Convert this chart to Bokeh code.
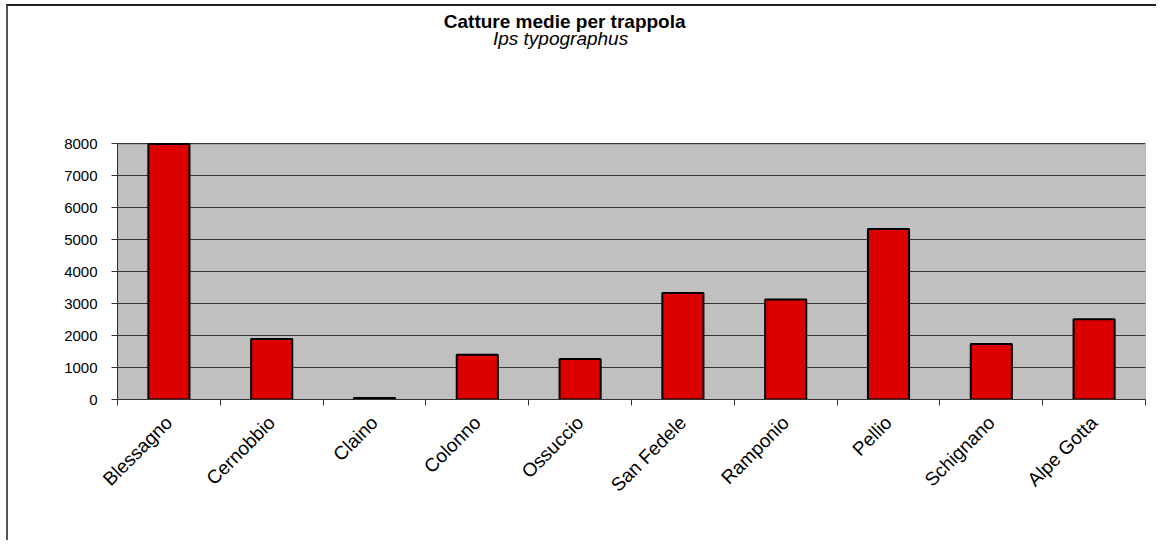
from math import pi
from bokeh.plotting import figure
from bokeh.models import Range1d, FixedTicker, Label, ColumnDataSource
from bokeh.embed import file_html
from bokeh.resources import INLINE

categories = ["Blessagno", "Cernobbio", "Claino", "Colonno", "Ossuccio",
              "San Fedele", "Ramponio", "Pellio", "Schignano", "Alpe Gotta"]
values = [8000, 1890, 50, 1400, 1270, 3335, 3130, 5340, 1740, 2510]
y_ticks = [0, 1000, 2000, 3000, 4000, 5000, 6000, 7000, 8000]
y_max_axis = 8000
title_text = "Catture medie per trappola"
subtitle_text = "Ips typographus"

n = len(categories)
xs = [i + 0.5 for i in range(n)]
src = ColumnDataSource(dict(x=xs, top=values, name=categories))
bg = ColumnDataSource(dict(left=[0], right=[n], bottom=[0], top=[y_max_axis]))

FONT = "Liberation Sans"
Y_TOP = 12300  # room above the plotting area for the titles

p = figure(width=1150, height=536, x_range=Range1d(0, n), y_range=Range1d(0, Y_TOP),
           output_backend="svg", toolbar_location=None,
           min_border_left=109, min_border_right=13, min_border_top=0, min_border_bottom=143)
p.styles = {"border-top": "2px solid #222222", "border-left": "2px solid #555555",
            "margin-top": "4px", "margin-left": "6px"}
p.background_fill_color = "white"
p.border_fill_color = "white"
p.outline_line_color = None

# grey plotting area with its grey top/right border
p.quad(left="left", right="right", bottom="bottom", top="top", source=bg,
       fill_color="#C0C0C0", line_color="#808080", line_width=1, level="underlay")

p.vbar(x="x", top="top", width=0.4, source=src, fill_color="#DD0000",
       line_color="black", line_width=2)

p.xgrid.visible = False
p.ygrid.ticker = FixedTicker(ticks=y_ticks[1:])
p.ygrid.grid_line_color = "#363636"
p.ygrid.grid_line_width = 1
p.ygrid.level = "underlay"

p.yaxis.ticker = FixedTicker(ticks=y_ticks)
p.yaxis.bounds = (0, y_max_axis)
p.yaxis.axis_line_color = "#333333"
p.yaxis.major_tick_line_color = "#333333"
p.yaxis.major_tick_out = 6
p.yaxis.major_tick_in = 0
p.yaxis.minor_tick_line_color = None
p.yaxis.major_label_text_font = FONT
p.yaxis.major_label_text_font_size = "15px"
p.yaxis.major_label_text_color = "black"
p.yaxis.major_label_standoff = 14

p.xaxis.ticker = FixedTicker(ticks=xs, minor_ticks=list(range(n + 1)))
p.xaxis.major_label_overrides = {x: c for x, c in zip(xs, categories)}
p.xaxis.axis_line_color = "#333333"
p.xaxis.major_tick_line_color = None
p.xaxis.minor_tick_line_color = "#333333"
p.xaxis.minor_tick_out = 6
p.xaxis.minor_tick_in = 0
p.xaxis.major_label_orientation = pi / 4
p.xaxis.major_label_text_font = FONT
p.xaxis.major_label_text_font_size = "19px"
p.xaxis.major_label_text_color = "black"
p.xaxis.major_label_standoff = 14

p.add_layout(Label(x=4.35, y=11820, x_units="data", y_units="data", text=title_text,
                   text_align="center", text_baseline="alphabetic", text_font=FONT,
                   text_font_style="bold", text_font_size="19px", text_color="black"))
p.add_layout(Label(x=4.31, y=11300, x_units="data", y_units="data", text=subtitle_text,
                   text_align="center", text_baseline="alphabetic", text_font=FONT,
                   text_font_style="italic", text_font_size="19px", text_color="black"))

open("out.html", "w").write(file_html(p, INLINE))
